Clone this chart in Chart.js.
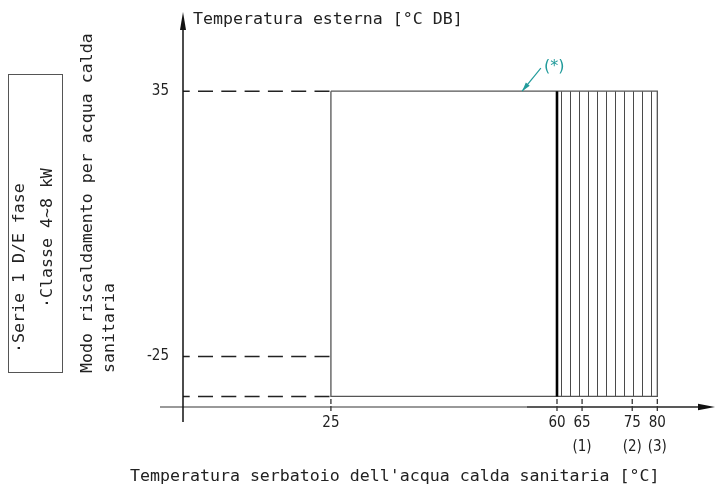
<!DOCTYPE html>
<html>
<head>
<meta charset="utf-8">
<script src="https://cdn.jsdelivr.net/npm/chart.js@4/dist/chart.umd.min.js"></script>
<style>
  html, body { margin: 0; padding: 0; background: #fff; }
  #wrap { width: 715px; height: 488px; }
</style>
</head>
<body>
<div id="wrap"><canvas id="Grafico" width="715" height="488"></canvas></div>
<script>
// valori
const X_TICKS = [25, 60, 65, 75, 80];
const X_TICK_LABELS = [['25'], ['60'], ['65', '(1)'], ['75', '(2)'], ['80', '(3)']];
const Y_TICKS = [35, -25];
const Y_TICK_LABELS = ['35', '-25'];

const RANGE_X = [25, 80];      // campo di funzionamento
const RANGE_Y = [-34, 35];
const HATCH_X = [60, 80];      // zona tratteggiata
const GUIDE_Y = [35, -25, -34]; // linee tratteggiate verso l'asse

const NOTE_TIP = [54.6, 35];
const NOTE_TAIL = [57.5, 40.2];
const NOTE_TEXT_AT = [58.0, 40.6];
const NOTE_TEXT = '(*)';

const X_MIN = 2.1, X_MAX = 91.5, X_BREAK = 60;
const Y_MIN = -36.4, Y_MAX = 55.6;

const MONO = "'DejaVu Sans Mono', 'Liberation Mono', monospace";
const NARROW = "'Liberation Sans Narrow', 'DejaVu Sans Condensed', 'Liberation Sans', sans-serif";
const TEAL = '#219b9b';

// scala lineare spezzata (il disegno originale non è in scala)
class BrokenScale extends Chart.LinearScale {
    static id = 'broken';
    static defaults = Chart.LinearScale.defaults;
    getPixelForValue(value) {
        const b = this.options.breakAt ?? X_BREAK;
        const f = this.options.breakFrac ?? 0.703;
        let t;
        if (value <= b) t = (value - this.min) / (b - this.min) * f;
        else t = f + (value - b) / (this.max - b) * (1 - f);
        return this.getPixelForDecimal(t);
    }
    getValueForPixel(pixel) {
        const b = this.options.breakAt ?? X_BREAK;
        const f = this.options.breakFrac ?? 0.703;
        const t = this.getDecimalForPixel(pixel);
        if (t <= f) return this.min + t / f * (b - this.min);
        return b + (t - f) / (1 - f) * (this.max - b);
    }
}
Chart.register(BrokenScale);

// motivo a righe verticali per la zona 60-80
function hatchPattern() {
    const c = document.createElement('canvas');
    c.width = 9; c.height = 10;
    const g = c.getContext('2d');
    g.fillStyle = '#4a4a4a';
    g.fillRect(3, 0, 1, 10);
    return g.createPattern(c, 'repeat');
}

const pts = (xs, ys) => xs.map((x, i) => ({ x: x, y: ys[i] }));

const datasets = [];
datasets.push({
    data: pts([HATCH_X[0], HATCH_X[1]], [RANGE_Y[1], RANGE_Y[1]]),
    borderWidth: 0,
    backgroundColor: hatchPattern(),
    fill: { value: RANGE_Y[0] },
    order: 5
});
datasets.push({
    data: pts([RANGE_X[0], RANGE_X[1], RANGE_X[1], RANGE_X[0], RANGE_X[0]],
              [RANGE_Y[1], RANGE_Y[1], RANGE_Y[0], RANGE_Y[0], RANGE_Y[1]]),
    borderColor: '#555',
    borderWidth: 1.3,
    order: 2
});
datasets.push({
    data: pts([HATCH_X[0], HATCH_X[0]], [RANGE_Y[1], RANGE_Y[0]]),
    borderColor: '#000',
    borderWidth: 2.6,
    order: 1
});
GUIDE_Y.forEach(function (y) {
    datasets.push({
        data: pts([X_MIN, RANGE_X[0]], [y, y]),
        borderColor: '#222',
        borderWidth: 1.5,
        borderDash: [15, 8.3],
        borderDashOffset: 8.3,
        order: 3
    });
});
datasets.forEach(function (d) {
    d.showLine = true;
    d.pointRadius = 0;
    d.tension = 0;
});

const disegno = {
    id: 'disegno',
    afterDatasetsDraw(chart) {
        const ctx = chart.ctx;
        const xs = chart.scales.x, ys = chart.scales.y;
        const a = chart.chartArea;
        const ax = a.left, ay = a.bottom;
        ctx.save();
        // asse x
        ctx.lineWidth = 1.5;
        ctx.strokeStyle = '#777';
        ctx.beginPath(); ctx.moveTo(160, ay); ctx.lineTo(527, ay); ctx.stroke();
        ctx.strokeStyle = '#222';
        ctx.beginPath(); ctx.moveTo(527, ay); ctx.lineTo(700, ay); ctx.stroke();
        ctx.fillStyle = '#111';
        ctx.beginPath(); ctx.moveTo(715, ay); ctx.lineTo(698, ay - 3.2); ctx.lineTo(698, ay + 3.2); ctx.closePath(); ctx.fill();
        // asse y
        ctx.strokeStyle = '#111';
        ctx.beginPath(); ctx.moveTo(ax, 422); ctx.lineTo(ax, 28); ctx.stroke();
        ctx.beginPath(); ctx.moveTo(ax, 12); ctx.lineTo(ax - 3, 30); ctx.lineTo(ax + 3, 30); ctx.closePath(); ctx.fill();
        // tacche asse x
        ctx.strokeStyle = '#333';
        ctx.lineWidth = 1.3;
        ctx.setLineDash([5, 2]);
        X_TICKS.forEach(function (v) {
            const px = xs.getPixelForValue(v);
            ctx.beginPath(); ctx.moveTo(px, ay - 8); ctx.lineTo(px, ay + 5); ctx.stroke();
        });
        ctx.setLineDash([]);
        // nota (*)
        const tx = xs.getPixelForValue(NOTE_TIP[0]), ty = ys.getPixelForValue(NOTE_TIP[1]);
        const sx = xs.getPixelForValue(NOTE_TAIL[0]), sy = ys.getPixelForValue(NOTE_TAIL[1]);
        const ang = Math.atan2(ty - sy, tx - sx);
        ctx.strokeStyle = TEAL; ctx.fillStyle = TEAL; ctx.lineWidth = 1.2;
        ctx.beginPath(); ctx.moveTo(sx, sy); ctx.lineTo(tx, ty); ctx.stroke();
        ctx.beginPath();
        ctx.moveTo(tx, ty);
        ctx.lineTo(tx - 9 * Math.cos(ang) + 2.5 * Math.sin(ang), ty - 9 * Math.sin(ang) - 2.5 * Math.cos(ang));
        ctx.lineTo(tx - 9 * Math.cos(ang) - 2.5 * Math.sin(ang), ty - 9 * Math.sin(ang) + 2.5 * Math.cos(ang));
        ctx.closePath(); ctx.fill();
        ctx.font = "16px 'DejaVu Sans', sans-serif";
        ctx.textAlign = 'left'; ctx.textBaseline = 'middle';
        ctx.fillText(NOTE_TEXT, xs.getPixelForValue(NOTE_TEXT_AT[0]), ys.getPixelForValue(NOTE_TEXT_AT[1]));
        ctx.restore();
    },
    afterDraw(chart) {
        const ctx = chart.ctx;
        ctx.save();
        ctx.fillStyle = '#222';
        ctx.font = '16.6px ' + MONO;
        ctx.textBaseline = 'middle';
        ctx.textAlign = 'left';
        ctx.fillText('Temperatura esterna [°C DB]', 193, 20);
        ctx.fillText("Temperatura serbatoio dell'acqua calda sanitaria [°C]", 130, 477);
        const vert = function (txt, x, y) {
            ctx.save();
            ctx.translate(x, y);
            ctx.rotate(-Math.PI / 2);
            ctx.fillText(txt, 0, 0);
            ctx.restore();
        };
        vert('Modo riscaldamento per acqua calda', 88, 373);
        vert('sanitaria', 110, 373);
        vert('·Serie 1 D/E fase', 20, 353);
        vert('·Classe 4~8 kW', 48, 308);
        ctx.strokeStyle = '#555';
        ctx.lineWidth = 1;
        ctx.strokeRect(8.5, 74.5, 54, 298);
        ctx.restore();
    }
};

const ctx = document.getElementById('Grafico').getContext('2d');
const grafico = new Chart(ctx, {
    type: 'scatter',
    data: { datasets: datasets },
    options: {
        responsive: false,
        devicePixelRatio: 1,
        animation: false,
        layout: { padding: 0 },
        plugins: { legend: { display: false }, tooltip: { enabled: false } },
        scales: {
            x: {
                type: 'broken',
                position: 'bottom',
                min: X_MIN,
                max: X_MAX,
                breakAt: X_BREAK,
                breakFrac: 0.703,
                afterFit: function (s) { s.height = 81; s.paddingLeft = 0; s.paddingRight = 0; },
                afterBuildTicks: function (s) { s.ticks = X_TICKS.map(v => ({ value: v })); },
                grid: { display: false, drawTicks: false },
                border: { display: false },
                ticks: {
                    autoSkip: false,
                    maxRotation: 0,
                    padding: 4,
                    color: '#222',
                    font: { family: NARROW, size: 15, lineHeight: 1.6 },
                    callback: function (v, i) { return X_TICK_LABELS[i]; }
                }
            },
            y: {
                type: 'linear',
                min: Y_MIN,
                max: Y_MAX,
                afterFit: function (s) { s.width = 183; s.paddingTop = 0; s.paddingBottom = 0; },
                afterBuildTicks: function (s) { s.ticks = Y_TICKS.map(v => ({ value: v })); },
                grid: { display: false, drawTicks: false },
                border: { display: false },
                ticks: {
                    padding: 14,
                    color: '#222',
                    font: { family: NARROW, size: 15 },
                    callback: function (v, i) { return Y_TICK_LABELS[i]; }
                }
            }
        }
    },
    plugins: [disegno]
});
</script>
</body>
</html>
